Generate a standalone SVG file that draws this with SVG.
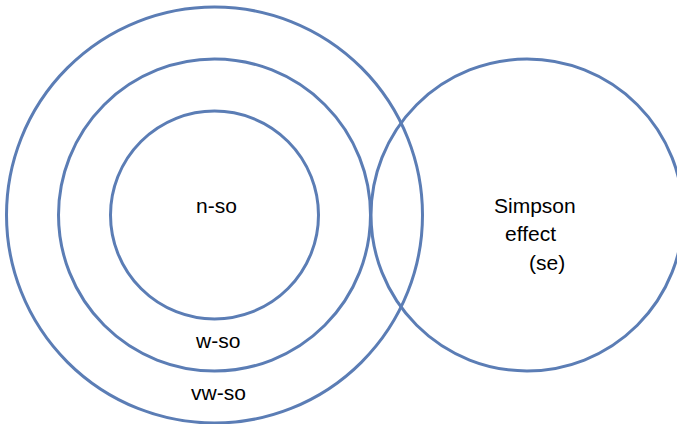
<svg xmlns="http://www.w3.org/2000/svg" width="677" height="424" viewBox="0 0 677 424">
<style>
.c{fill:none;stroke:#5B7DB5;stroke-width:3}
.t{font-family:"Liberation Sans","DejaVu Sans",sans-serif;font-size:21px;fill:#000}
</style>
<rect width="677" height="424" fill="#fff"/>
<g id="vw-so"><circle class="c" cx="214.5" cy="215" r="208"/><text class="t" x="191" y="400">vw-so</text></g>
<g id="w-so"><circle class="c" cx="214.5" cy="215" r="156"/><text class="t" x="196" y="348">w-so</text></g>
<g id="n-so"><circle class="c" cx="214.5" cy="215" r="104"/><text class="t" x="196" y="213">n-so</text></g>
<g id="se"><circle class="c" cx="527" cy="215" r="156"/>
<text class="t" x="494" y="213">Simpson</text>
<text class="t" x="505" y="241">effect</text>
<text class="t" x="529" y="270">(se)</text></g>
<g id="connectors"/>
</svg>
